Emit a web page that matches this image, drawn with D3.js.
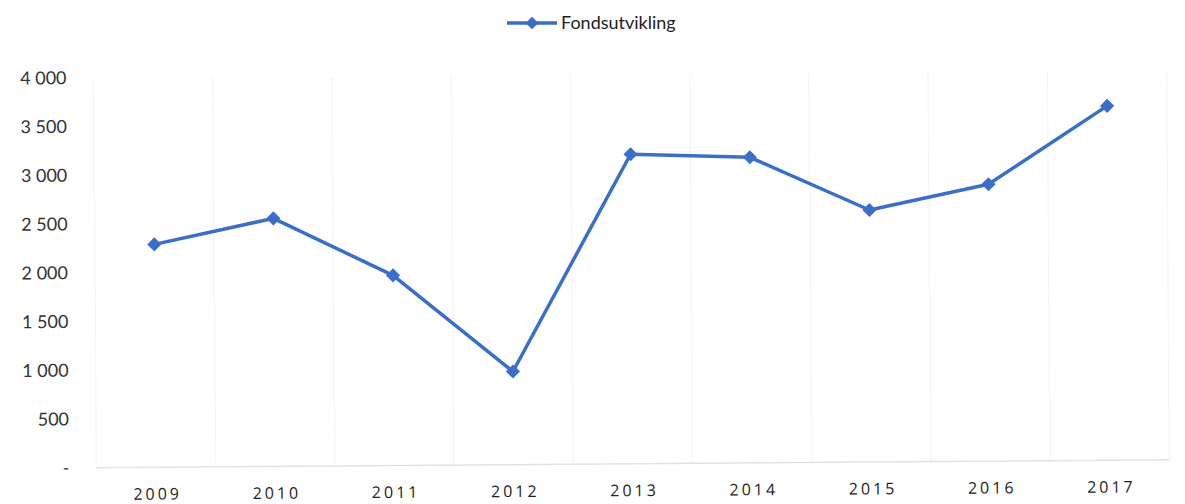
<!DOCTYPE html>
<html lang="no">
<head>
    <meta charset="UTF-8">
    <script src="https://d3js.org/d3.v7.min.js"></script>
    <title>Fondsutvikling</title>
    <style>
        body {
            margin: 0;
            background: #fff;
            font-family: Lato, "Noto Sans", Arial, sans-serif;
        }
        .y.axis text {
            font-family: Lato, "Noto Sans", Arial, sans-serif;
            font-size: 18px;
            fill: #333;
        }
        .x.axis text {
            font-family: "Open Sans", Arial, sans-serif;
            font-size: 16px;
            letter-spacing: 3px;
            fill: #222;
        }
        .axis path, .axis line {
            display: none;
        }
    </style>
</head>
<body>
<script>
    // data
    const years = ['2009', '2010', '2011', '2012', '2013', '2014', '2015', '2016', '2017'];
    const fund = [2286, 2544, 1950, 955, 3175, 3135, 2585, 2840, 3635];
    const yTicks = [0, 500, 1000, 1500, 2000, 2500, 3000, 3500, 4000];
    const seriesName = 'Fondsutvikling';

    const W = 1185, H = 504;
    const margin = { top: 74, right: 17, bottom: 40, left: 95 };
    const width = W - margin.left - margin.right;
    const height = H - margin.top - margin.bottom;
    const blue = '#3a6fc9';

    const svg = d3.select('body').append('svg')
        .attr('width', W)
        .attr('height', H);

    // the scan is slightly tilted
    const root = svg.append('g')
        .attr('transform', 'rotate(-0.42, 600, 280)');

    const g = root.append('g')
        .attr('transform', `translate(${margin.left},${margin.top})`);

    const x = d3.scaleBand().domain(years).range([0, width]);
    const y = d3.scaleLinear().domain([0, 4000]).range([height, 0]);

    const nb = d3.formatLocale({ decimal: ',', thousands: '\u00a0', grouping: [3], currency: ['', ''] });
    const fmt = v => v === 0 ? '-' : nb.format(',')(v);

    // faint vertical gridlines
    g.append('g').selectAll('line')
        .data(years.map(d => x(d)).concat([width]))
        .join('line')
        .attr('x1', d => d).attr('x2', d => d)
        .attr('y1', 0).attr('y2', height)
        .attr('stroke', '#f7f7f7')
        .attr('stroke-width', 1.5);

    // baseline
    g.append('line')
        .attr('x1', 0).attr('x2', width)
        .attr('y1', height).attr('y2', height)
        .attr('stroke', '#e2e2e2')
        .attr('stroke-width', 1.5);

    g.append('g').attr('class', 'y axis')
        .attr('transform', 'translate(-24,0)')
        .call(d3.axisLeft(y).tickValues(yTicks).tickFormat(fmt).tickSize(0));

    g.append('g').attr('class', 'x axis')
        .attr('transform', `translate(0,${height + 18})`)
        .call(d3.axisBottom(x).tickSize(0))
        .selectAll('text').attr('dx', '1.5px');

    const line = d3.line()
        .x((d, i) => x(years[i]) + x.bandwidth() / 2)
        .y(d => y(d));

    g.append('path')
        .datum(fund)
        .attr('fill', 'none')
        .attr('stroke', blue)
        .attr('stroke-width', 3.5)
        .attr('stroke-linejoin', 'round')
        .attr('d', line);

    const diamond = d3.symbol().type(d3.symbolSquare).size(100);

    g.append('g').selectAll('path')
        .data(fund)
        .join('path')
        .attr('d', diamond)
        .attr('fill', blue)
        .attr('transform', (d, i) => `translate(${x(years[i]) + x.bandwidth() / 2},${y(d)}) rotate(45)`);

    // legend
    const leg = svg.append('g').attr('transform', 'translate(507,23)');
    leg.append('line')
        .attr('x1', 0).attr('x2', 50)
        .attr('stroke', blue).attr('stroke-width', 3.5);
    leg.append('path')
        .attr('d', d3.symbol().type(d3.symbolSquare).size(80))
        .attr('fill', blue)
        .attr('transform', 'translate(25,0) rotate(45)');
    leg.append('text')
        .attr('x', 54).attr('y', 6)
        .attr('font-size', 18)
        .attr('fill', '#222')
        .text(seriesName);
</script>
</body>
</html>
